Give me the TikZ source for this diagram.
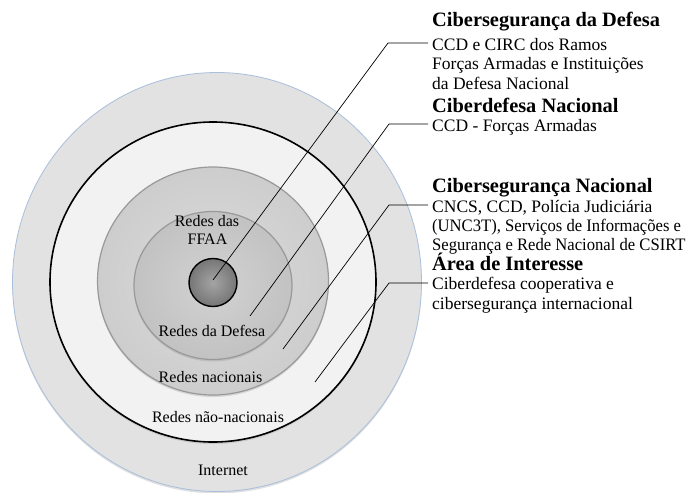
\documentclass[tikz,border=0pt]{standalone}
\usepackage{fontspec}
\setmainfont{Liberation Serif}
\newfontfamily\narrowserif[FakeStretch=0.95]{Liberation Serif}
\usetikzlibrary{shadows}
\definecolor{cInternet}{HTML}{E2E2E2}
\definecolor{cBlueEdge}{HTML}{A9BFDC}
\definecolor{cNonNat}{HTML}{F2F2F2}
\definecolor{cNatIn}{HTML}{DCDCDC}
\definecolor{cNatOut}{HTML}{CDCDCD}
\definecolor{cDefIn}{HTML}{D2D2D2}
\definecolor{cDefOut}{HTML}{C2C2C2}
\definecolor{cCoreIn}{HTML}{A4A4A4}
\definecolor{cCoreOut}{HTML}{767676}
\tikzset{
  softshadow/.style={drop shadow={opacity=0.25, shadow xshift=0pt, shadow yshift=-2pt}},
  ringlabel/.style={font=\fontsize{16}{18}\selectfont, anchor=base, inner sep=0pt},
  headtext/.style={font=\fontsize{20.4}{22}\selectfont\bfseries, anchor=base west, inner sep=0pt},
  bodytext/.style={font=\fontsize{17.5}{20}\selectfont, anchor=base west, inner sep=0pt},
  bodynarrow/.style={font=\narrowserif\fontsize{17.5}{20}\selectfont, anchor=base west, inner sep=0pt},
  leader/.style={draw=black, line width=0.7pt},
}
\begin{document}
\begin{tikzpicture}[x=1pt,y=-1pt]
\useasboundingbox (0,0) rectangle (689,493);
\fill[white] (0,0) rectangle (689,493);

% centres
\coordinate (cOuter) at (217,282);
\coordinate (cNon) at (213,282);
\coordinate (cNat) at (213,281);
\coordinate (cDef) at (213,285.5);
\coordinate (cCore) at (213,282.5);

% rings
\path[fill=cInternet, softshadow] (cOuter) ellipse [x radius=204.5pt, y radius=209.5pt];
\draw[cBlueEdge, line width=0.8pt] (cOuter) ellipse [x radius=204.5pt, y radius=209.5pt];
\path[fill=cNonNat, softshadow] (cNon) ellipse [x radius=163pt, y radius=160pt];
\draw[black, line width=1.6pt] (cNon) ellipse [x radius=163pt, y radius=160pt];
\path[inner color=cNatIn, outer color=cNatOut, softshadow] (cNat) ellipse [x radius=115.5pt, y radius=114pt];
\draw[black!40, line width=1.2pt] (cNat) ellipse [x radius=115.5pt, y radius=114pt];
\path[inner color=cDefIn, outer color=cDefOut, softshadow] (cDef) ellipse [x radius=79pt, y radius=74pt];
\draw[black!40, line width=1.2pt] (cDef) ellipse [x radius=79pt, y radius=74pt];
\path[inner color=cCoreIn, outer color=cCoreOut] (cCore) circle [radius=24pt];
\draw[black, line width=1.4pt] (cCore) circle [radius=24pt];

% ring labels
\node[ringlabel] (lFFAA1) at (207,226) {Redes das};
\node[ringlabel] (lFFAA2) at (207.5,244) {FFAA};
\node[ringlabel] (lDef) at (212,336) {Redes da Defesa};
\node[ringlabel] (lNat) at (210.5,382) {Redes nacionais};
\node[ringlabel] (lNon) at (218,422.5) {Redes não-nacionais};
\node[ringlabel] (lInt) at (223,475) {Internet};

% text blocks
\node[headtext] (h1) at (432,26) {Cibersegurança da Defesa};
\node[bodytext] (b1a) at (432,50) {CCD e CIRC dos Ramos};
\node[bodytext] (b1b) at (432,69.5) {Forças Armadas e Instituições};
\node[bodytext] (b1c) at (432,89) {da Defesa Nacional};

\node[headtext] (h2) at (432,112) {Ciberdefesa Nacional};
\node[bodytext] (b2a) at (432,131) {CCD - Forças Armadas};

\node[headtext] (h3) at (432,192) {Cibersegurança Nacional};
\node[bodytext] (b3a) at (432,212) {CNCS, CCD, Polícia Judiciária};
\node[bodynarrow] (b3b) at (432,231) {(UNC3T), Serviços de Informações e};
\node[bodynarrow] (b3c) at (432,250) {Segurança e Rede Nacional de CSIRT};

\node[headtext] (h4) at (432,270) {Área de Interesse};
\node[bodytext] (b4a) at (432,289) {Ciberdefesa cooperativa e};
\node[bodytext] (b4b) at (432,309) {cibersegurança internacional};

% leader lines
\coordinate (s1) at (213,280);  \coordinate (k1) at (388,43);  \coordinate (e1) at (428,43);
\coordinate (s2) at (250,316);  \coordinate (k2) at (389,124); \coordinate (e2) at (428,124);
\coordinate (s3) at (283,349);  \coordinate (k3) at (389,205); \coordinate (e3) at (428,205);
\coordinate (s4) at (315,382);  \coordinate (k4) at (389,283); \coordinate (e4) at (428,283);
\draw[leader] (s1) -- (k1) -- (e1);
\draw[leader] (s2) -- (k2) -- (e2);
\draw[leader] (s3) -- (k3) -- (e3);
\draw[leader] (s4) -- (k4) -- (e4);
\end{tikzpicture}
\end{document}
